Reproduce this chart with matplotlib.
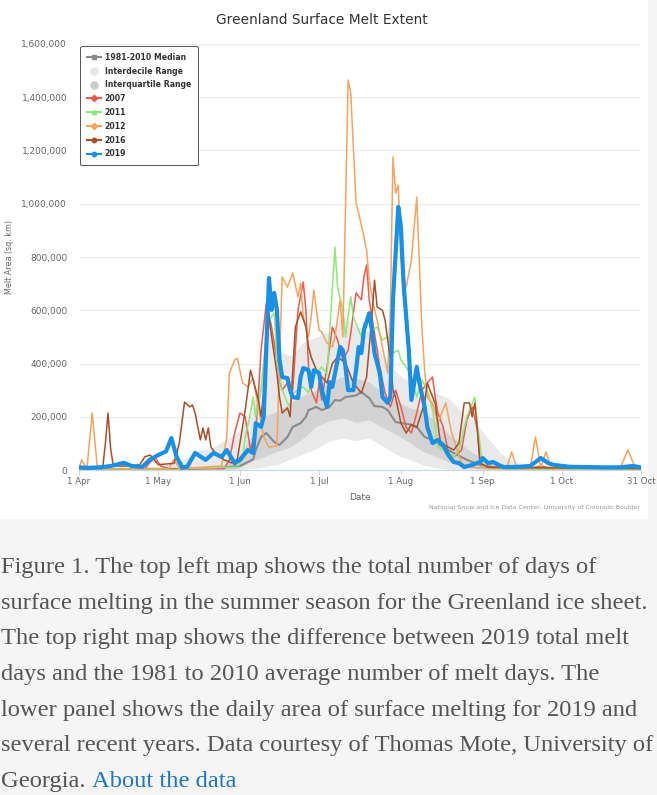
import matplotlib
matplotlib.use("Agg")
import matplotlib.pyplot as plt
from matplotlib.lines import Line2D
from matplotlib.patches import Rectangle
from matplotlib.ticker import FuncFormatter

# days counted from 1 Apr, values in thousands of sq. km
tick_days = [0, 30, 61, 91, 122, 153, 183, 213]
tick_labels = ["1 Apr", "1 May", "1 Jun", "1 Jul", "1 Aug", "1 Sep", "1 Oct", "31 Oct"]

decile_days = [0, 30, 40, 45, 50, 55, 60, 65, 70, 72, 75, 80, 85, 90, 95, 100, 105, 110,
               115, 120, 125, 130, 135, 140, 145, 150, 155, 160, 165, 175, 190, 213]
decile_lo = [0, 0, 0, 0, 0, 0, 0, 5, 10, 15, 20, 40, 60, 80, 110, 120, 110, 120,
             90, 60, 40, 20, 8, 3, 0, 0, 0, 0, 0, 0, 0, 0]
decile_hi = [5, 15, 40, 75, 80, 110, 140, 200, 420, 550, 450, 430, 480, 500, 520, 575, 540, 520,
             430, 370, 330, 300, 290, 270, 220, 180, 120, 60, 30, 15, 5, 3]

quart_days = [50, 55, 60, 65, 70, 75, 80, 85, 90, 95, 100, 105, 110, 115, 120, 125,
              130, 135, 140, 145, 150, 155, 160, 165]
quart_lo = [0, 0, 5, 30, 50, 70, 86, 120, 165, 185, 195, 180, 188, 160, 135, 105,
            72, 52, 30, 15, 5, 0, 0, 0]
quart_hi = [10, 20, 45, 120, 200, 220, 252, 280, 300, 330, 350, 345, 330, 290, 260, 235,
            222, 185, 135, 95, 60, 38, 15, 5]

median_days = [0, 30, 45, 55, 61, 66, 67, 69, 71, 74, 76, 79, 81, 84, 86, 87, 90, 92, 95, 97,
               99, 101, 105, 107, 110, 112, 115, 117, 120, 123, 126, 128, 131, 134, 138, 142,
               147, 152, 157, 164, 213]
median_val = [0, 2, 5, 10, 15, 40, 75, 124, 139, 105, 94, 124, 162, 176, 200, 225, 237, 225, 237, 263,
              260, 274, 280, 293, 270, 240, 237, 225, 180, 175, 170, 162, 124, 113, 86, 64,
              38, 19, 11, 3, 0]

y2007_days = [0, 25, 27, 29, 31, 34, 55, 57, 59, 61, 63, 65, 67, 68, 69, 71, 73, 75, 76, 77, 79,
              81, 82, 83, 85, 86, 87, 88, 90, 91, 92, 94, 96, 98, 100, 102, 103, 105, 107, 108,
              109, 110, 112, 114, 116, 118, 120, 122, 124, 126, 128, 130, 132, 134, 135, 136,
              138, 140, 142, 145, 147, 149, 151, 152, 155, 170, 175, 180, 213]
y2007_val = [3, 5, 30, 45, 15, 5, 5, 38, 139, 214, 200, 75, 150, 289, 450, 627, 537, 413, 338, 300, 327,
             300, 450, 601, 706, 601, 387, 300, 252, 327, 263, 387, 537, 488, 413, 450, 514, 665, 639, 725,
             770, 639, 514, 387, 289, 237, 300, 237, 160, 139, 214, 300, 327, 349, 274, 214,
             162, 64, 49, 75, 188, 237, 150, 26, 11, 5, 15, 5, 5]

y2011_days = [0, 37, 38, 39, 40, 55, 60, 62, 63, 65, 66, 67, 69, 70, 71, 72, 74, 75, 76, 77, 79,
              80, 81, 83, 85, 87, 88, 90, 92, 94, 96, 97, 98, 100, 101, 103, 104, 106, 107, 108,
              110, 111, 113, 115, 117, 119, 121, 122, 124, 126, 128, 130, 132, 134, 136, 138,
              140, 142, 144, 147, 150, 151, 153, 155, 213]
y2011_val = [0, 0, 5, 30, 5, 10, 10, 40, 124, 214, 274, 200, 300, 402, 514, 563, 589, 413, 349, 300, 252,
             240, 289, 300, 312, 290, 327, 364, 387, 360, 676, 838, 687, 601, 500, 650, 575, 525, 500, 552,
             575, 525, 537, 488, 500, 439, 450, 413, 387, 349, 274, 338, 300, 225, 86, 75,
             64, 49, 75, 200, 274, 170, 19, 5, 0]

y2012_days = [0, 1, 3, 5, 7, 34, 36, 38, 54, 56, 57, 59, 60, 62, 64, 66, 67, 68, 70, 72, 75, 77,
              79, 81, 83, 84, 85, 87, 88, 89, 91, 92, 94, 96, 97, 99, 100, 102, 103, 105, 106,
              108, 109, 110, 112, 113, 115, 117, 118, 119, 120, 121, 122, 124, 126, 128, 130,
              131, 132, 134, 136, 139, 141, 143, 145, 148, 162, 164, 166, 171, 173, 175, 177,
              179, 205, 208, 211, 213]
y2012_val = [5, 38, 5, 214, 5, 5, 40, 5, 15, 124, 364, 413, 420, 327, 312, 345, 289, 237, 124, 86, 90, 725,
             687, 740, 650, 702, 575, 500, 575, 676, 525, 518, 477, 462, 500, 639, 500, 1465, 1416, 1003, 965,
             875, 826, 713, 601, 563, 462, 364, 600, 1176, 1040, 1070, 789, 687, 789, 1025, 526,
             375, 274, 250, 176, 252, 150, 86, 26, 10, 5, 68, 5, 5, 124, 10, 68,
             5, 5, 75, 5, 5]

y2016_days = [0, 9, 10, 11, 12, 13, 20, 23, 25, 27, 28, 30, 36, 38, 40, 42, 43, 44, 46, 47, 48,
              49, 50, 52, 55, 58, 60, 61, 63, 65, 66, 68, 69, 70, 72, 73, 75, 76, 77, 79, 80,
              82, 84, 86, 87, 88, 90, 92, 94, 96, 98, 101, 104, 107, 109, 111, 112, 113, 115,
              116, 117, 118, 119, 120, 122, 124, 126, 128, 131, 132, 133, 135, 137, 140, 142,
              144, 146, 148, 149, 150, 151, 152, 155, 213]
y2016_val = [10, 10, 100, 214, 80, 15, 15, 20, 50, 56, 45, 20, 25, 100, 255, 237, 244, 214, 113, 158, 113,
             158, 86, 60, 38, 26, 40, 101, 225, 375, 338, 263, 200, 290, 575, 500, 364, 274, 214, 233, 200,
             537, 594, 537, 462, 424, 375, 350, 327, 400, 424, 402, 327, 289, 349, 575, 713, 612, 600,
             563, 488, 420, 300, 274, 176, 139, 170, 160, 252, 327, 300, 250, 101, 86, 75,
             101, 252, 252, 200, 252, 150, 26, 10, 5]

y2019_days = [0, 3, 8, 12, 17, 20, 24, 27, 30, 33, 35, 37, 39, 41, 44, 48, 51, 54, 56, 59, 61, 64,
              66, 67, 69, 70, 72, 73, 74, 75, 76, 77, 79, 80, 81, 83, 84, 85, 87, 88, 89, 91, 92,
              94, 95, 96, 98, 99, 100, 101, 102, 104, 105, 106, 107, 108, 110, 111, 112, 114, 115,
              117, 118, 119, 121, 122, 123, 125, 126, 128, 129, 131, 132, 134, 136, 138, 140, 142,
              144, 146, 149, 152, 153, 155, 157, 159, 161, 167, 171, 175, 178, 180, 186, 198, 205,
              210, 213]
y2019_val = [10, 8, 10, 15, 27, 15, 12, 40, 56, 70, 120, 50, 10, 12, 64, 38, 64, 49, 75, 26, 38, 75,
             64, 176, 162, 200, 721, 601, 665, 601, 413, 349, 345, 300, 274, 270, 349, 383, 375, 312, 375, 364, 300,
             237, 330, 312, 413, 462, 450, 387, 300, 300, 375, 462, 439, 525, 589, 525, 439, 364, 274,
             252, 274, 639, 988, 913, 702, 450, 263, 387, 327, 237, 162, 101, 113, 94, 56, 30,
             26, 11, 19, 30, 45, 26, 30, 19, 11, 12, 15, 45, 25, 19, 12, 10, 10,
             15, 10]

years = [("2007", y2007_days, y2007_val, "#ec5a4f", "D"),
         ("2011", y2011_days, y2011_val, "#8fe67a", "^"),
         ("2012", y2012_days, y2012_val, "#f6a35f", "D"),
         ("2016", y2016_days, y2016_val, "#a5502a", "o"),
         ("2019", y2019_days, y2019_val, "#1a8fe6", "o")]

W, H = 657, 795
fig = plt.figure(figsize=(W / 100, H / 100), dpi=100, facecolor="#f5f5f5")

# white chart panel
fig.patches.append(Rectangle((0, 1 - 519 / H), 648 / W, 519 / H, transform=fig.transFigure,
                             facecolor="white", edgecolor="none", zorder=-5))

ax = fig.add_axes([79 / W, 1 - 470 / H, 562 / W, 426 / H])
ax.set_facecolor("white")

k = 1000
ax.fill_between(decile_days, [v * k for v in decile_lo], [v * k for v in decile_hi],
                color="#e9e9e9", lw=0, zorder=1)
ax.fill_between(quart_days, [v * k for v in quart_lo], [v * k for v in quart_hi],
                color="#d3d3d3", lw=0, zorder=2)
ax.plot(median_days, [v * k for v in median_val], color="#8a8a8a", lw=1.5, zorder=3)

for name, d, v, c, m in years:
    lw = 3.0 if name == "2019" else 1.1
    ax.plot(d, [x * k for x in v], color=c, lw=lw, zorder=4, solid_joinstyle="round")

ax.set_xlim(0, 213)
ax.set_ylim(0, 1600000)
ax.set_yticks(range(0, 1600001, 200000))
ax.yaxis.set_major_formatter(FuncFormatter(lambda v, p: f"{int(v):,}"))
ax.set_xticks(tick_days)
ax.set_xticklabels(tick_labels)
ax.grid(axis="y", color="#ebebeb", lw=0.8, zorder=0)
ax.set_axisbelow(True)
for s in ["top", "right", "left"]:
    ax.spines[s].set_visible(False)
ax.spines["bottom"].set_color("#ccd6eb")
ax.spines["bottom"].set_linewidth(0.8)
ax.tick_params(axis="y", length=0, pad=8.5, labelsize=6.5, labelcolor="#666666")
ax.tick_params(axis="x", length=3.5, width=0.8, color="#ccd6eb", pad=1.5,
               labelsize=6.2, labelcolor="#666666")

# legend
handles = [Line2D([], [], color="#8a8a8a", lw=1.5, marker="s", ms=3.2),
           Line2D([], [], color="none", marker="o", ms=5, mfc="#e6e6e6", mec="#e6e6e6"),
           Line2D([], [], color="none", marker="o", ms=5, mfc="#cccccc", mec="#cccccc")]
labels = ["1981-2010 Median", "Interdecile Range", "Interquartile Range"]
for name, d, v, c, m in years:
    handles.append(Line2D([], [], color=c, lw=1.5, marker=m, ms=3.2))
    labels.append(name)
leg = ax.legend(handles, labels, loc="upper left", bbox_to_anchor=(0.002, 0.995),
                borderaxespad=0, labelspacing=0.62, handlelength=1.8,
                handletextpad=0.5, borderpad=0.85, fancybox=True, framealpha=1,
                edgecolor="#555555", prop={"weight": "bold", "size": 5.6})
leg.get_frame().set_linewidth(0.7)
leg.set_zorder(10)
for t in leg.get_texts():
    t.set_color("#333333")

fig.text(322 / W, 1 - 20 / H, "Greenland Surface Melt Extent", ha="center", va="center",
         fontsize=9.9, color="#333333")
fig.text(10 / W, 1 - 257 / H, "Melt Area (sq. km)", rotation=90, ha="center", va="center",
         fontsize=5.8, color="#666666")
fig.text(360 / W, 1 - 497 / H, "Date", ha="center", va="center", fontsize=6.5, color="#666666")
fig.text(640 / W, 1 - 508 / H, "National Snow and Ice Data Center, University of Colorado Boulder",
         ha="right", va="center", fontsize=4.5, color="#999999")

# caption below the chart
caption = ["Figure 1. The top left map shows the total number of days of",
           "surface melting in the summer season for the Greenland ice sheet.",
           "The top right map shows the difference between 2019 total melt",
           "days and the 1981 to 2010 average number of melt days. The",
           "lower panel shows the daily area of surface melting for 2019 and",
           "several recent years. Data courtesy of Thomas Mote, University of",
           "Georgia. "]
serif = ["Liberation Serif", "DejaVu Serif"]
renderer = fig.canvas.get_renderer()
widest = 0
for line in caption:
    probe = fig.text(0, 0, line, family=serif, fontsize=16)
    widest = max(widest, probe.get_window_extent(renderer).width)
    probe.remove()
cap_size = 16 * 652 / widest

last = None
for i, line in enumerate(caption):
    last = fig.text(1 / W, 1 - (573 + 35.7 * i) / H, line, family=serif, fontsize=cap_size,
                    color="#555555", va="baseline", ha="left")
x_end = last.get_window_extent(renderer).x1
fig.text(x_end / W, 1 - (573 + 35.7 * 6) / H, "About the data", family=serif, fontsize=cap_size,
         color="#2278c0", va="baseline", ha="left")

fig.savefig("out.png", dpi=100, facecolor=fig.get_facecolor())
